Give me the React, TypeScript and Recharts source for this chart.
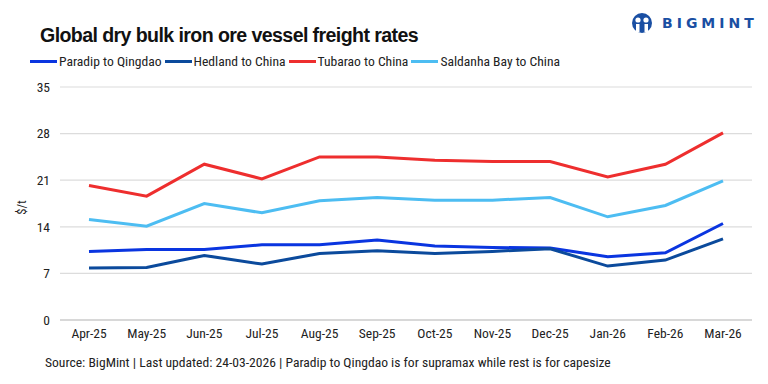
import { LineChart, Line, XAxis, YAxis, CartesianGrid } from "recharts";

const months = ["Apr-25", "May-25", "Jun-25", "Jul-25", "Aug-25", "Sep-25", "Oct-25", "Nov-25", "Dec-25", "Jan-26", "Feb-26", "Mar-26"];
const paradip = [10.3, 10.6, 10.6, 11.3, 11.3, 12.0, 11.1, 10.9, 10.8, 9.5, 10.1, 14.5];
const hedland = [7.8, 7.9, 9.7, 8.4, 10.0, 10.4, 10.0, 10.3, 10.7, 8.1, 9.0, 12.2];
const tubarao = [20.2, 18.6, 23.4, 21.2, 24.5, 24.5, 24.0, 23.8, 23.8, 21.5, 23.4, 28.1];
const saldanha = [15.1, 14.1, 17.5, 16.1, 17.9, 18.4, 18.0, 18.0, 18.4, 15.5, 17.2, 20.9];
const yTicks = [0, 7, 14, 21, 28, 35];

const series = [
  { key: "paradip", name: "Paradip to Qingdao", color: "#0a35e0" },
  { key: "hedland", name: "Hedland to China", color: "#0b4a9c" },
  { key: "tubarao", name: "Tubarao to China", color: "#ee2e2e" },
  { key: "saldanha", name: "Saldanha Bay to China", color: "#4dbdf2" },
];

const data = months.map((m, i) => ({
  month: m,
  paradip: paradip[i],
  hedland: hedland[i],
  tubarao: tubarao[i],
  saldanha: saldanha[i],
}));

const FONT = '"Liberation Sans Narrow", "Roboto Condensed", "Liberation Sans", Arial, sans-serif';

export default function App() {
  return (
    <div style={{ position: "absolute", top: 0, left: 0, width: 768, height: 384, background: "#fff", fontFamily: FONT, overflow: "hidden" }}>
      <div style={{ position: "absolute", left: 40, top: 24, fontSize: 19.6, fontWeight: 700, color: "#111", fontFamily: '"Liberation Sans", Arial, sans-serif', letterSpacing: -0.6 }}>
        Global dry bulk iron ore vessel freight rates
      </div>

      {/* logo */}
      <div style={{ position: "absolute", left: 631, top: 12, display: "flex", alignItems: "center", gap: 9, color: "#1a4fa3" }}>
        <svg width="22" height="22" viewBox="0 0 22 22">
          <circle cx="11" cy="11" r="10" fill="#1a4fa3" />
          <circle cx="7" cy="8" r="2.6" fill="#fff" />
          <circle cx="15" cy="8" r="2.6" fill="#fff" />
          <rect x="5" y="12" width="3.5" height="8" fill="#fff" />
          <rect x="13.5" y="12" width="3.5" height="8" fill="#fff" />
        </svg>
        <span style={{ fontFamily: '"DejaVu Sans", sans-serif', fontWeight: 700, fontSize: 14, letterSpacing: 4 }}>BIGMINT</span>
      </div>

      {/* legend */}
      <div style={{ position: "absolute", left: 30, top: 53, display: "flex", alignItems: "center", fontSize: 13.6, color: "#222" }}>
        {series.map((s) => (
          <div key={s.key} style={{ display: "flex", alignItems: "center", marginRight: 3 }}>
            <div style={{ width: 27, height: 3, background: s.color, marginRight: 2 }} />
            <span>{s.name}</span>
          </div>
        ))}
      </div>

      <div style={{ position: "absolute", left: 14, top: 200, fontSize: 12.5, color: "#222", transform: "rotate(-90deg)" }}>$/t</div>

      <div style={{ position: "absolute", left: 0, top: 0 }}>
        <LineChart width={768} height={384} data={data} margin={{ top: 87, right: 16, bottom: 34, left: 30 }}>
          <CartesianGrid vertical={false} stroke="#dcdcdc" strokeWidth={1.2} />
          <XAxis
            dataKey="month"
            axisLine={{ stroke: "#d0d0d0", strokeWidth: 1.5 }}
            tickLine={false}
            tickMargin={2}
            height={30}
            interval={0}
            padding={{ left: 29, right: 29 }}
            tick={{ fill: "#222", fontSize: 13.5, fontFamily: FONT }}
          />
          <YAxis
            domain={[0, 35]}
            ticks={yTicks}
            axisLine={false}
            tickLine={false}
            tickSize={0}
            tickMargin={10}
            width={30}
            tick={{ fill: "#222", fontSize: 13.5, fontFamily: FONT }}
          />
          {series.map((s) => (
            <Line
              key={s.key}
              type="linear"
              dataKey={s.key}
              stroke={s.color}
              strokeWidth={3}
              dot={false}
              isAnimationActive={false}
            />
          ))}
        </LineChart>
      </div>

      <div style={{ position: "absolute", left: 45, top: 354, fontSize: 13.6, color: "#222" }}>
        Source: BigMint | Last updated: 24-03-2026 | Paradip to Qingdao is for supramax while rest is for capesize
      </div>
    </div>
  );
}
